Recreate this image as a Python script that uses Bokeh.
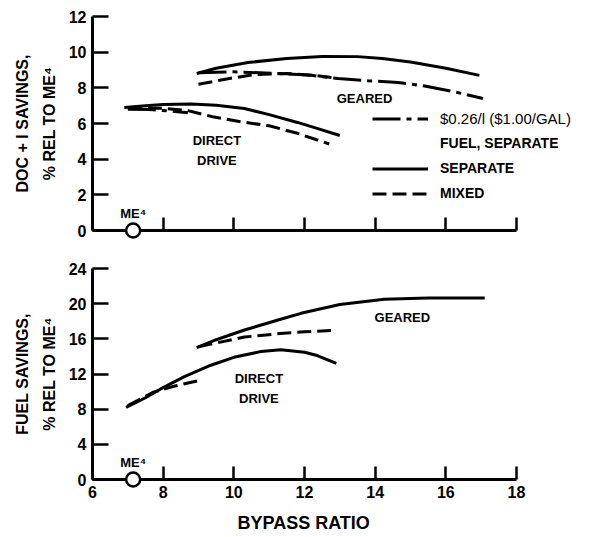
from bokeh.plotting import figure
from bokeh.layouts import column
from bokeh.models import Range1d, FixedTicker, Legend, LegendItem, Title
from bokeh.core.properties import value
from bokeh.embed import file_html
from bokeh.resources import INLINE

FONT = "Liberation Sans"

# ---------------- data ----------------
# Top panel: DOC + I savings, % rel to ME4, vs bypass ratio
doc_direct_sep_x = [6.9, 7.5, 8.0, 8.8, 9.5, 10.3, 11.0, 11.8, 12.4, 13.0]
doc_direct_sep_y = [6.9, 7.0, 7.07, 7.1, 7.02, 6.84, 6.5, 6.06, 5.7, 5.33]
doc_direct_mix_x = [7.0, 8.0, 8.7, 9.4, 10.2, 11.0, 11.8, 12.7]
doc_direct_mix_y = [6.85, 6.85, 6.72, 6.38, 6.1, 5.87, 5.45, 4.85]
doc_direct_fuel_x = [7.0, 7.6, 8.2, 8.7]
doc_direct_fuel_y = [6.8, 6.78, 6.7, 6.6]

doc_geared_sep_x = [8.95, 9.5, 10.4, 11.5, 12.5, 13.5, 14.2, 15.0, 16.0, 16.95]
doc_geared_sep_y = [8.8, 9.1, 9.42, 9.65, 9.76, 9.75, 9.65, 9.45, 9.1, 8.7]
doc_geared_mix_x = [9.0, 9.8, 10.6, 11.5, 12.3, 12.9]
doc_geared_mix_y = [8.2, 8.5, 8.75, 8.8, 8.7, 8.55]
doc_geared_fuel_x = [9.0, 10.0, 11.3, 12.2, 12.95, 13.8, 14.65, 15.4, 16.2, 17.05]
doc_geared_fuel_y = [8.85, 8.9, 8.8, 8.7, 8.52, 8.4, 8.3, 8.1, 7.8, 7.4]

# Bottom panel: fuel savings, % rel to ME4, vs bypass ratio
fuel_direct_sep_x = [6.95, 7.5, 7.93, 8.6, 9.35, 10.0, 10.77, 11.33, 12.0, 12.36, 12.9]
fuel_direct_sep_y = [8.2, 9.3, 10.3, 11.7, 13.0, 13.9, 14.55, 14.75, 14.48, 14.1, 13.2]
fuel_direct_mix_x = [7.0, 7.7, 8.3, 9.0]
fuel_direct_mix_y = [8.4, 9.9, 10.6, 11.25]

fuel_geared_sep_x = [8.95, 9.5, 10.3, 11.3, 11.9, 13.0, 14.26, 15.5, 17.1]
fuel_geared_sep_y = [15.0, 15.9, 17.0, 18.2, 18.9, 19.9, 20.5, 20.65, 20.65]
fuel_geared_mix_x = [9.0, 10.3, 11.3, 12.0, 12.75]
fuel_geared_mix_y = [15.1, 16.2, 16.6, 16.8, 16.95]

# Reference engine ME4
me4_x = [7.15]
me4_y = [0.0]

x_ticks = [6, 8, 10, 12, 14, 16, 18]
doc_ticks = [0, 2, 4, 6, 8, 10, 12]
fuel_ticks = [0, 4, 8, 12, 16, 20, 24]

DASH = "14 6"
DASHDOT = "28 6 5 6"
LW = 3
FRAME_W = 500
X_END = 6 + 12 * FRAME_W / 424.0


def style(p, yticks, ybounds, show_x_labels):
    p.xgrid.grid_line_color = None
    p.ygrid.grid_line_color = None
    p.outline_line_color = None
    for ax in (p.xaxis[0], p.yaxis[0]):
        ax.axis_line_width = 3
        ax.axis_line_color = "black"
        ax.major_tick_line_width = 2.5
        ax.major_tick_line_color = "black"
        ax.major_tick_out = 0
        ax.minor_tick_line_color = None
        ax.major_label_text_font = FONT
        ax.major_label_text_font_style = "bold"
        ax.major_label_text_font_size = "16px"
        ax.major_label_text_color = "black"
        ax.axis_label_text_font = FONT
        ax.axis_label_text_font_style = "bold"
        ax.axis_label_text_color = "black"
    p.xaxis[0].ticker = FixedTicker(ticks=x_ticks)
    p.xaxis[0].bounds = (x_ticks[0], x_ticks[-1])
    p.yaxis[0].ticker = FixedTicker(ticks=yticks)
    p.yaxis[0].bounds = ybounds
    p.yaxis[0].major_tick_in = 16
    p.xaxis[0].major_tick_in = 13
    p.yaxis[0].major_label_standoff = 6
    p.yaxis[0].axis_label_text_font_size = "16px"
    p.yaxis[0].axis_label_text_line_height = 1.6
    p.yaxis[0].axis_label_standoff = 8
    if show_x_labels:
        p.xaxis[0].major_label_standoff = 6
    else:
        p.xaxis[0].major_label_overrides = {t: "" for t in x_ticks}
        p.xaxis[0].major_label_standoff = 0


def add_text(p, x, y, s, size="13px", yoff=0):
    p.text(x=x, y=y, text=[s], text_font=value(FONT), text_font_style="bold",
           text_font_size=size, text_align="center", text_baseline="middle",
           text_color="black", y_offset=yoff)


# ---------------- top panel ----------------
top = figure(frame_width=FRAME_W, frame_height=214, x_range=Range1d(6, X_END), y_range=Range1d(0, 12),
             output_backend="svg", toolbar_location=None,
             min_border_left=92, min_border_right=0, min_border_top=16, min_border_bottom=15)
style(top, doc_ticks, (0, 12), False)
top.yaxis[0].axis_label = "DOC + I SAVINGS,\n% REL TO ME\u2074"

r_sep = top.line(doc_direct_sep_x, doc_direct_sep_y, line_width=LW, line_color="black")
r_mix = top.line(doc_direct_mix_x, doc_direct_mix_y, line_width=LW, line_color="black", line_dash=DASH)
r_fuel = top.line(doc_direct_fuel_x, doc_direct_fuel_y, line_width=LW, line_color="black", line_dash=DASHDOT)
top.line(doc_geared_sep_x, doc_geared_sep_y, line_width=LW, line_color="black")
top.line(doc_geared_mix_x, doc_geared_mix_y, line_width=LW, line_color="black", line_dash=DASH)
top.line(doc_geared_fuel_x, doc_geared_fuel_y, line_width=LW, line_color="black", line_dash=DASHDOT)
r_blank = top.line([], [], line_alpha=0)

top.scatter(me4_x, me4_y, size=14, marker="circle", fill_color="white", line_color="black",
            line_width=2.5, level="overlay")
add_text(top, me4_x, me4_y, "ME\u2074", size="13px", yoff=-17)
add_text(top, [13.7], [7.4], "GEARED", size="13px")
add_text(top, [9.52], [5.05], "DIRECT", size="13px")
add_text(top, [9.52], [3.93], "DRIVE", size="13px")

leg_a = Legend(items=[LegendItem(label="$0.26/l ($1.00/GAL)", renderers=[r_fuel])],
               location=(280, 101.5), padding=0, margin=0, spacing=4,
               glyph_width=56, glyph_height=21, label_height=21, label_standoff=12,
               label_text_font=FONT, label_text_font_size="15px", label_text_color="black",
               border_line_alpha=0, background_fill_alpha=0)
leg_b = Legend(items=[LegendItem(label="FUEL, SEPARATE", renderers=[r_blank]),
                      LegendItem(label="SEPARATE", renderers=[r_sep]),
                      LegendItem(label="MIXED", renderers=[r_mix])],
               location=(280, 26.5), padding=0, margin=0, spacing=4,
               glyph_width=56, glyph_height=21, label_height=21, label_standoff=12,
               label_text_font=FONT, label_text_font_size="14px", label_text_font_style="bold",
               label_text_color="black", border_line_alpha=0, background_fill_alpha=0)
top.add_layout(leg_a)
top.add_layout(leg_b)

# ---------------- bottom panel ----------------
bot = figure(frame_width=FRAME_W, frame_height=211, x_range=Range1d(6, X_END), y_range=Range1d(0, 24),
             output_backend="svg", toolbar_location=None,
             min_border_left=92, min_border_right=0, min_border_top=23, min_border_bottom=58)
style(bot, fuel_ticks, (0, 24), True)
bot.yaxis[0].axis_label = "FUEL SAVINGS,\n% REL TO ME\u2074"

x_title = Title(text="BYPASS RATIO", align="left", offset=145, standoff=20,
                text_font=FONT, text_font_style="bold", text_font_size="18px", text_color="black")
bot.add_layout(x_title, "below")

bot.line(fuel_direct_sep_x, fuel_direct_sep_y, line_width=LW, line_color="black")
bot.line(fuel_direct_mix_x, fuel_direct_mix_y, line_width=LW, line_color="black", line_dash=DASH)
bot.line(fuel_geared_sep_x, fuel_geared_sep_y, line_width=LW, line_color="black")
bot.line(fuel_geared_mix_x, fuel_geared_mix_y, line_width=LW, line_color="black", line_dash=DASH)

bot.scatter(me4_x, me4_y, size=14, marker="circle", fill_color="white", line_color="black",
            line_width=2.5, level="overlay")
add_text(bot, me4_x, me4_y, "ME\u2074", size="13px", yoff=-17)
add_text(bot, [14.77], [18.43], "GEARED", size="13px")
add_text(bot, [10.71], [11.49], "DIRECT", size="13px")
add_text(bot, [10.71], [9.2], "DRIVE", size="13px")

layout = column(top, bot, spacing=0)
open("out.html", "w").write(file_html(layout, INLINE))
